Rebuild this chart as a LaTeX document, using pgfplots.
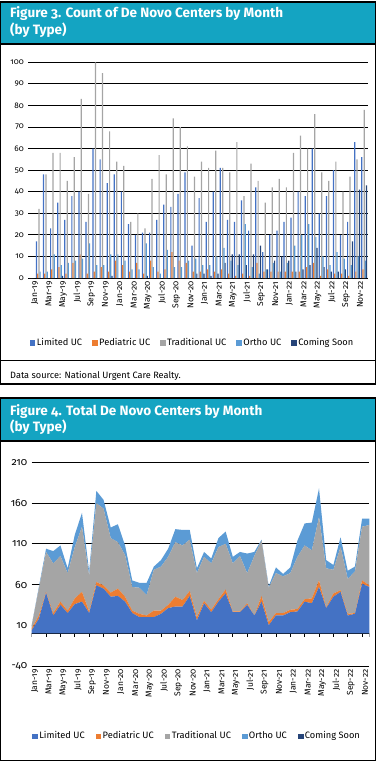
\documentclass[border=0pt]{standalone}
\usepackage{pgfplots}
\usepackage{pgfplotstable}
\pgfplotsset{compat=1.18}
\usepackage{fontspec}
\setmainfont{Fira Sans}[Numbers=OldStyle]
\definecolor{hdr}{HTML}{14A4C2}
\definecolor{cLim}{HTML}{4472C4}
\definecolor{cPed}{HTML}{ED7D31}
\definecolor{cTrad}{HTML}{A5A5A5}
\definecolor{cOrt}{HTML}{5B9BD5}
\definecolor{cCom}{HTML}{264478}
\pgfplotstableread{
k L P T O C
1 0 0 0 0 0
2 17 2 32 3 0
3 48 2 48 3 0
4 23 4 58 11 0
5 35 5 58 6 1
6 27 2 45 7 0
7 38 7 56 8 0
8 40 11 83 9 0
9 26 2 39 16 0
10 60 3 100 6 0
11 55 5 95 6 0
12 44 3 68 11 1
13 48 8 54 11 0
14 40 6 52 8 0
15 25 3 26 4 0
16 20 7 30 4 0
17 21 2 23 16 1
18 21 8 46 5 0
19 27 3 57 2 0
20 34 4 48 13 0
21 33 12 74 5 0
22 39 8 70 5 0
23 49 7 61 8 0
24 15 3 47 9 2
25 37 3 54 6 2
26 26 4 51 6 1
27 40 3 59 10 2
28 51 4 51 14 7
29 27 2 49 8 11
30 26 1 63 6 11
31 36 2 38 25 6
32 22 1 53 5 11
33 42 7 45 2 15
34 12 3 35 4 4
35 20 3 42 7 8
36 22 3 46 3 10
37 26 3 42 7 8
38 28 3 58 15 3
39 40 3 66 20 4
40 38 5 60 25 6
41 60 7 76 19 14
42 30 1 49 10 5
43 38 4 45 6 3
44 50 2 54 12 3
45 20 2 40 9 4
46 26 1 47 6 17
47 63 3 55 10 41
48 56 4 78 8 43
}\figthree
\pgfplotstableread{
k L P T O
1 4 2 4 0
2 18 4 33 2
3 50 1 49 4
4 22 3 61 15
5 35 4 56 13
6 25 3 46 6
7 36 7 63 15
8 39 12 80 17
9 25 2 44 5
10 59 4 97 15
11 55 4 94 11
12 45 5 67 13
13 46 9 57 22
14 39 6 51 12
15 25 3 29 8
16 20 4 32 6
17 20 2 25 15
18 20 8 50 4
19 24 4 54 8
20 31 4 59 10
21 33 12 67 16
22 33 8 67 19
23 46 6 63 12
24 16 4 54 6
25 37 3 54 6
26 26 3 57 6
27 39 3 64 11
28 49 5 56 15
29 26 1 59 8
30 26 1 68 5
31 35 2 37 24
32 22 0 73 5
33 39 7 68 1
34 10 4 42 2
35 22 3 49 7
36 22 3 45 3
37 26 3 45 7
38 27 3 64 20
39 39 3 66 27
40 37 6 59 34
41 57 8 78 35
42 31 1 48 10
43 45 4 29 6
44 51 2 53 12
45 22 2 43 10
46 24 1 51 6
47 61 4 66 10
48 57 2 74 8
}\figfour
\def\monthlabels{Jan-19,Mar-19,May-19,Jul-19,Sep-19,Nov-19,Jan-20,Mar-20,May-20,Jul-20,Sep-20,Nov-20,Jan-21,Mar-21,May-21,Jul-21,Sep-21,Nov-21,Jan-22,Mar-22,May-22,Jul-22,Sep-22,Nov-22}
\begin{document}
\begin{tikzpicture}
\useasboundingbox (0bp,0bp) rectangle (378bp,-761bp);
% ---------- Figure 3 frame ----------
\fill[hdr] (0bp,-2bp) rectangle (376bp,-44bp);
\draw[black, line width=1.3bp] (0.7bp,-2bp) rectangle (375.3bp,-384bp);
\draw[black, line width=1.3bp] (0bp,-44bp) -- (376bp,-44bp);
\draw[black, line width=1bp] (0bp,-360bp) -- (376bp,-360bp);
\node[anchor=base west, text=white, font=\bfseries\fontsize{13.6}{15}\selectfont, inner sep=0pt] at (10bp,-17.8bp) {Figure 3. Count of De Novo Centers by Month};
\node[anchor=base west, text=white, font=\bfseries\fontsize{13.6}{15}\selectfont, inner sep=0pt] at (10bp,-34bp) {(by Type)};
\node[anchor=base west, font=\fontsize{9.2}{11}\selectfont, inner sep=0pt] at (10bp,-378bp) {Data source: National Urgent Care Realty.};
% ---------- Figure 4 frame ----------
\fill[hdr] (0bp,-398bp) rectangle (376bp,-441bp);
\draw[black, line width=1.3bp] (0.7bp,-398bp) rectangle (375.3bp,-760.3bp);
\draw[black, line width=1.3bp] (0bp,-441bp) -- (376bp,-441bp);
\node[anchor=base west, text=white, font=\bfseries\fontsize{13.6}{15}\selectfont, inner sep=0pt] at (10bp,-415.5bp) {Figure 4. Total De Novo Centers by Month};
\node[anchor=base west, text=white, font=\bfseries\fontsize{13.6}{15}\selectfont, inner sep=0pt] at (10bp,-431.5bp) {(by Type)};
% ---------- Figure 3 axis ----------
\begin{axis}[
  at={(28.3bp,-278bp)}, anchor=south west, scale only axis,
  width=339.4bp, height=215.7bp,
  xmin=0.5, xmax=48.5, ymin=0, ymax=100,
  ytick={0,10,...,100},
  ymajorgrids, grid style={black, line width=0.8bp},
  axis x line*=bottom, axis y line*=left,
  x axis line style={black, line width=0.8bp, -},
  y axis line style={draw=none},
  ytick style={draw=none},
  xtick={1,3,...,47},
  xticklabels/.expand once={\monthlabels},
  xtick style={draw=none},
  extra x ticks={0.5,2.5,...,48.5},
  extra x tick labels={},
  extra x tick style={grid=none, tick align=outside, major tick length=4bp,
     tick style={draw=black, line width=0.8bp}},
  /pgf/number format/assume math mode=true,
  yticklabel style={font=\fontsize{8.2}{9}\selectfont, xshift=-1bp},
  xticklabel style={font=\fontsize{8.5}{9}\selectfont, rotate=90, anchor=east, yshift=-3bp},
  legend style={at={(0.484,-0.301)}, anchor=center, draw=none, fill=none,
     font=\fontsize{9.3}{10}\selectfont, legend columns=5,
     /tikz/every even column/.append style={column sep=8bp}},
  legend cell align=left,
]
\addplot[forget plot, ybar, bar width=1.2bp, bar shift=-2.4bp, fill=cLim, draw=none] table[x=k,y=L]{\figthree};
\addplot[forget plot, ybar, bar width=1.2bp, bar shift=-1.2bp, fill=cPed, draw=none] table[x=k,y=P]{\figthree};
\addplot[forget plot, ybar, bar width=1.2bp, bar shift=0bp, fill=cTrad, draw=none] table[x=k,y=T]{\figthree};
\addplot[forget plot, ybar, bar width=1.2bp, bar shift=1.2bp, fill=cOrt, draw=none] table[x=k,y=O]{\figthree};
\addplot[forget plot, ybar, bar width=1.2bp, bar shift=2.4bp, fill=cCom, draw=none] table[x=k,y=C]{\figthree};
\addlegendimage{legend image code/.code={\fill[cLim] (0bp,-2.3bp) rectangle (4.6bp,2.3bp);}}
\addlegendentry{Limited UC}
\addlegendimage{legend image code/.code={\fill[cPed] (0bp,-2.3bp) rectangle (4.6bp,2.3bp);}}
\addlegendentry{Pediatric UC}
\addlegendimage{legend image code/.code={\fill[cTrad] (0bp,-2.3bp) rectangle (4.6bp,2.3bp);}}
\addlegendentry{Traditional UC}
\addlegendimage{legend image code/.code={\fill[cOrt] (0bp,-2.3bp) rectangle (4.6bp,2.3bp);}}
\addlegendentry{Ortho UC}
\addlegendimage{legend image code/.code={\fill[cCom] (0bp,-2.3bp) rectangle (4.6bp,2.3bp);}}
\addlegendentry{Coming Soon}
\end{axis}
% ---------- Figure 4 axis ----------
\begin{axis}[
  at={(31.7bp,-666bp)}, anchor=south west, scale only axis,
  width=337.6bp, height=203.7bp,
  xmin=1, xmax=48, ymin=-40, ymax=210,
  ytick={-40,10,...,210},
  ymajorgrids, grid style={black, line width=0.8bp},
  stack plots=y,
  axis x line*=bottom, axis y line*=left,
  x axis line style={draw=none}, y axis line style={draw=none},
  xtick={1,3,...,47},
  xticklabels/.expand once={\monthlabels},
  xtick style={draw=none}, ytick style={draw=none},
  /pgf/number format/assume math mode=true,
  yticklabel style={font=\fontsize{10.5}{11}\selectfont, xshift=-1bp},
  xticklabel style={font=\fontsize{8.5}{9}\selectfont, rotate=90, anchor=east, yshift=-3bp},
  legend style={at={(0.49,-0.344)}, anchor=center, draw=none, fill=none,
     font=\fontsize{9.3}{10}\selectfont, legend columns=5,
     /tikz/every even column/.append style={column sep=9bp}},
  legend cell align=left,
]
\addplot[forget plot, fill=cLim, draw=none] table[x=k,y=L]{\figfour} \closedcycle;
\addplot[forget plot, fill=cPed, draw=none] table[x=k,y=P]{\figfour} \closedcycle;
\addplot[forget plot, fill=cTrad, draw=none] table[x=k,y=T]{\figfour} \closedcycle;
\addplot[forget plot, fill=cOrt, draw=none] table[x=k,y=O]{\figfour} \closedcycle;
\draw[black, line width=0.8bp] (axis cs:1,0) -- (axis cs:48,0);
\pgfplotsinvokeforeach{1,3,...,47}{\draw[black, line width=0.8bp] (axis cs:#1,0) -- ++(0bp,-4bp);}
\draw[black, line width=0.8bp] (axis cs:48,0) -- ++(0bp,-4bp);
\addlegendimage{legend image code/.code={\fill[cLim] (0bp,-2.3bp) rectangle (4.6bp,2.3bp);}}
\addlegendentry{Limited UC}
\addlegendimage{legend image code/.code={\fill[cPed] (0bp,-2.3bp) rectangle (4.6bp,2.3bp);}}
\addlegendentry{Pediatric UC}
\addlegendimage{legend image code/.code={\fill[cTrad] (0bp,-2.3bp) rectangle (4.6bp,2.3bp);}}
\addlegendentry{Traditional UC}
\addlegendimage{legend image code/.code={\fill[cOrt] (0bp,-2.3bp) rectangle (4.6bp,2.3bp);}}
\addlegendentry{Ortho UC}
\addlegendimage{legend image code/.code={\fill[cCom] (0bp,-2.3bp) rectangle (4.6bp,2.3bp);}}
\addlegendentry{Coming Soon}
\end{axis}
\end{tikzpicture}
\end{document}
